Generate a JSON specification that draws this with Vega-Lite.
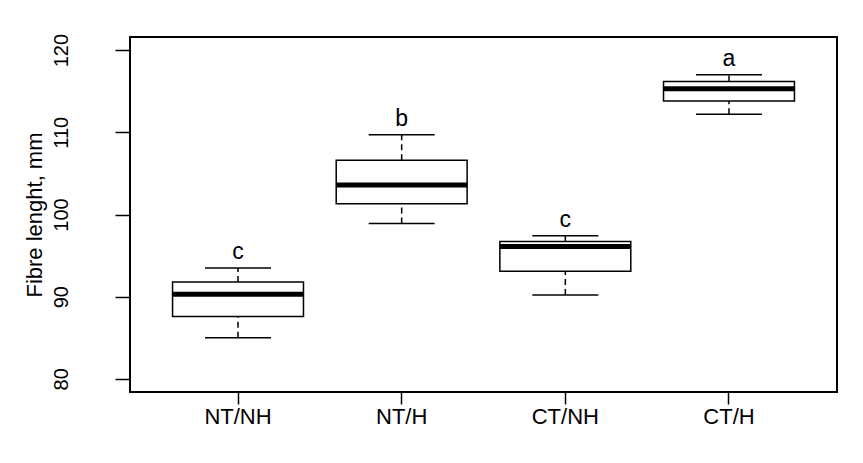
{
  "$schema": "https://vega.github.io/schema/vega-lite/v6.json",
  "width": 707,
  "height": 355,
  "autosize": {"type": "none"},
  "padding": {"left": 130, "top": 37, "right": 26, "bottom": 71},
  "background": "white",
  "config": {
    "font": "Liberation Sans",
    "view": {"stroke": "black", "strokeWidth": 2}
  },
  "data": {
    "values": [
      {"group": "NT/NH", "lower": 85.0, "q1": 87.6, "median": 90.3, "q3": 91.8, "upper": 93.5, "letter": "c"},
      {"group": "NT/H", "lower": 98.9, "q1": 101.3, "median": 103.6, "q3": 106.6, "upper": 109.7, "letter": "b"},
      {"group": "CT/NH", "lower": 90.2, "q1": 93.1, "median": 96.1, "q3": 96.7, "upper": 97.4, "letter": "c"},
      {"group": "CT/H", "lower": 112.2, "q1": 113.8, "median": 115.3, "q3": 116.2, "upper": 117.0, "letter": "a"}
    ]
  },
  "encoding": {
    "x": {
      "field": "group",
      "type": "nominal",
      "sort": null,
      "scale": {"type": "band", "paddingInner": 0.2, "paddingOuter": 0.26},
      "axis": {
        "title": null,
        "domain": false,
        "grid": false,
        "tickSize": 12,
        "tickColor": "black",
        "tickWidth": 1.5,
        "labelAngle": 0,
        "labelFont": "Liberation Sans",
        "labelFontSize": 22,
        "labelColor": "black",
        "labelPadding": 2
      }
    }
  },
  "layer": [
    {
      "mark": {"type": "rule", "color": "black", "strokeWidth": 1.5, "strokeDash": [6, 4]},
      "encoding": {
        "y": {
          "field": "q3",
          "type": "quantitative",
          "scale": {"domain": [78.4, 121.6], "nice": false, "zero": false},
          "axis": {
            "title": "Fibre lenght, mm",
            "values": [80, 90, 100, 110, 120],
            "domain": false,
            "grid": false,
            "tickSize": 15,
            "tickColor": "black",
            "tickWidth": 1.5,
            "labelAngle": -90,
            "labelAlign": "center",
            "labelBaseline": "bottom",
            "labelPadding": 44,
            "labelFont": "Liberation Sans",
            "labelFontSize": 20,
            "labelColor": "black",
            "titleFont": "Liberation Sans",
            "titleFontSize": 22,
            "titleFontWeight": "normal",
            "titleColor": "black",
            "titlePadding": 5
          }
        },
        "y2": {"field": "upper"}
      }
    },
    {
      "mark": {"type": "rule", "color": "black", "strokeWidth": 1.5, "strokeDash": [6, 4]},
      "encoding": {
        "y": {"field": "lower", "type": "quantitative"},
        "y2": {"field": "q1"}
      }
    },
    {
      "mark": {"type": "tick", "color": "black", "opacity": 1, "size": 66, "thickness": 1.5},
      "encoding": {"y": {"field": "upper", "type": "quantitative"}}
    },
    {
      "mark": {"type": "tick", "color": "black", "opacity": 1, "size": 66, "thickness": 1.5},
      "encoding": {"y": {"field": "lower", "type": "quantitative"}}
    },
    {
      "mark": {"type": "bar", "fill": "white", "stroke": "black", "strokeWidth": 1.5, "opacity": 1},
      "encoding": {
        "y": {"field": "q1", "type": "quantitative"},
        "y2": {"field": "q3"}
      }
    },
    {
      "mark": {"type": "tick", "color": "black", "opacity": 1, "size": 131, "thickness": 5},
      "encoding": {"y": {"field": "median", "type": "quantitative"}}
    },
    {
      "mark": {"type": "text", "color": "black", "fontSize": 23, "baseline": "alphabetic", "dy": -9},
      "encoding": {
        "y": {"field": "upper", "type": "quantitative"},
        "text": {"field": "letter"}
      }
    }
  ]
}
